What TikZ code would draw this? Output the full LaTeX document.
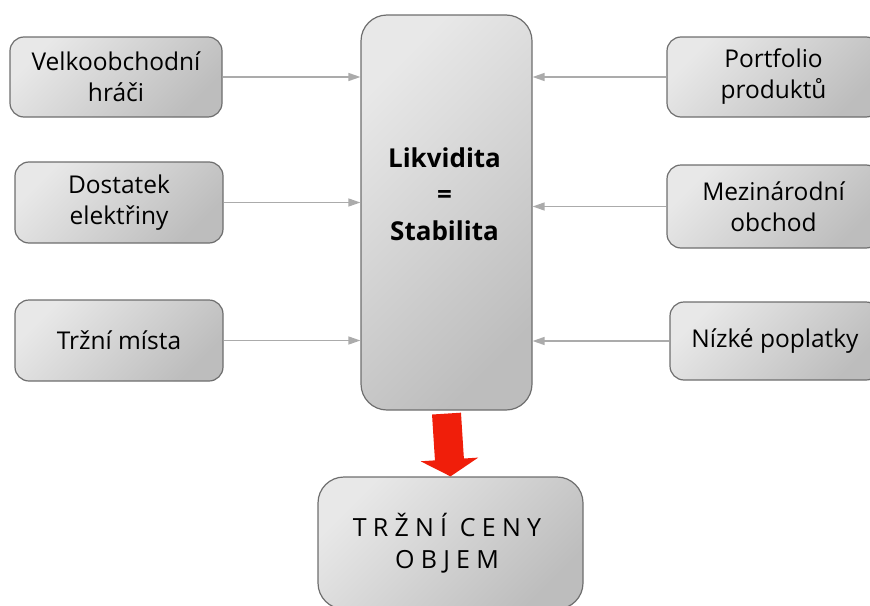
\documentclass[tikz,border=0pt]{standalone}
\usepackage{fontspec}
\setmainfont{Open Sans}
\usetikzlibrary{arrows.meta}
\definecolor{boxlight}{HTML}{E8E8E8}
\definecolor{boxdark}{HTML}{BDBDBD}
\definecolor{boxedge}{HTML}{6E6E6E}
\definecolor{linkgray}{HTML}{ABABAB}
\definecolor{flowred}{HTML}{F01E0A}
\tikzset{
  box/.style={draw=boxedge, line width=1.2pt, rounded corners=14pt,
    top color=boxlight, bottom color=boxdark, shading angle=45,
    align=center, font=\fontsize{24.5}{31}\selectfont, text=black},
  bigbox/.style={box, rounded corners=26pt},
  link/.style={draw=linkgray, line width=1.3pt,
    -{Triangle[width=8pt,length=12pt]}},
  flow/.style={draw=flowred, line width=29pt,
    -{Triangle[width=57pt,length=17pt]}},
}
\begin{document}
\begin{tikzpicture}[x=1pt,y=-1pt]
\useasboundingbox (0,0) rectangle (870,605);
\clip (0,0) rectangle (870,605);
% centre block
\node[bigbox, minimum width=171pt, minimum height=395pt] (mid) at (446.5,212.5) {};
\node[font=\fontsize{26}{36.5}\selectfont\bfseries, align=center] (midtxt) at (444.5,194) {Likvidita\\=\\Stabilita};
% left inputs
\node[box, minimum width=212pt, minimum height=80pt] (l1) at (116,77) {Velkoobchodní\\hráči};
\node[box, minimum width=208pt, minimum height=81pt] (l2) at (119,202.5) {Dostatek\\elektřiny};
\node[box, minimum width=208pt, minimum height=81pt] (l3) at (119,340.5) {Tržní místa};
% right inputs
\node[box, minimum width=213pt, minimum height=80pt] (r1) at (773.5,77) {Portfolio\\produktů};
\node[box, minimum width=213pt, minimum height=83pt] (r2) at (773.5,206.5) {Mezinárodní\\obchod};
\node[box, minimum width=210pt, minimum height=78pt] (r3) at (775,341) {Nízké poplatky};
% result block
\node[bigbox, minimum width=265pt, minimum height=132pt] (out) at (450.5,543) {};
\node[font=\fontsize{25}{32}\selectfont\addfontfeatures{LetterSpace=25}, align=center, text=black] (outtxt) at (447,543) {TRŽNÍ CENY\\OBJEM};
% connectors
\draw[link] (l1.east) -- (l1.east -| mid.west);
\draw[link] (l2.east) -- (l2.east -| mid.west);
\draw[link] (l3.east) -- (l3.east -| mid.west);
\draw[link] (r1.west) -- (r1.west -| mid.east);
\draw[link] (r2.west) -- (r2.west -| mid.east);
\draw[link] (r3.west) -- (r3.west -| mid.east);
\draw[flow] ([yshift=-3pt]mid.south) -- (out.north);
\end{tikzpicture}
\end{document}
